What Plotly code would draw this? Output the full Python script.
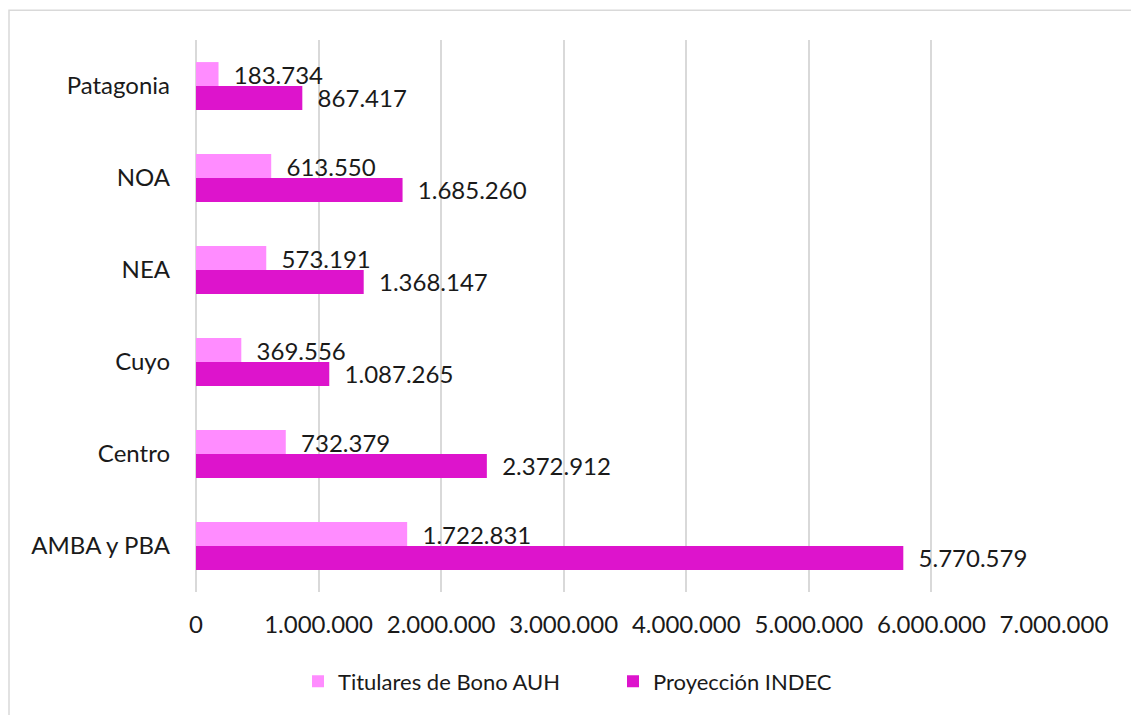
import plotly.graph_objects as go

regions = ["AMBA y PBA", "Centro", "Cuyo", "NEA", "NOA", "Patagonia"]
titulares = [1722831, 732379, 369556, 573191, 613550, 183734]
proyeccion = [5770579, 2372912, 1087265, 1368147, 1685260, 867417]
x_ticks = [0, 1000000, 2000000, 3000000, 4000000, 5000000, 6000000, 7000000]

FONT = "Lato, 'Noto Sans', sans-serif"
LIGHT = "#FF8CFF"
DARK = "#DD14CC"
TXT = "#1a1a1a"
PAD = "\u00a0\u00a0"

fig = go.Figure()
fig.add_trace(go.Bar(
    y=regions, x=proyeccion, orientation="h", name="Proyección INDEC",
    marker=dict(color=DARK, line=dict(width=0)),
    texttemplate=PAD + "%{x:,d}", textposition="outside", constraintext="none",
    textfont=dict(size=24, color=TXT, family=FONT), cliponaxis=False,
))
fig.add_trace(go.Bar(
    y=regions, x=titulares, orientation="h", name="Titulares de Bono AUH",
    marker=dict(color=LIGHT, line=dict(width=0)),
    texttemplate=PAD + "%{x:,d}", textposition="outside", constraintext="none",
    textfont=dict(size=24, color=TXT, family=FONT), cliponaxis=False,
))

L, R, T, B = 196, 77, 40, 120
W, H = 1131, 715
pw, ph = W - L - R, H - T - B

fig.update_layout(
    width=W, height=H,
    margin=dict(l=L, r=R, t=T, b=B),
    separators=",.",
    barmode="group", bargap=0.48, bargroupgap=0,
    plot_bgcolor="white", paper_bgcolor="white",
    font=dict(family=FONT, size=24, color=TXT),
    xaxis=dict(
        range=[0, 7000000], tickvals=x_ticks, tickformat=",d",
        showgrid=True, gridcolor="#D9D9D9", gridwidth=1.5,
        zeroline=True, zerolinecolor="#D9D9D9", zerolinewidth=1.5,
        showline=False, ticks="", ticklabelstandoff=16,
        tickfont=dict(size=24, color=TXT),
    ),
    yaxis=dict(
        showgrid=False, zeroline=False, showline=False, ticks="",
        ticklabelstandoff=25, tickfont=dict(size=24, color=TXT),
        range=[-0.5, 5.5],
    ),
    legend=dict(
        orientation="h", x=(298 - L) / pw, xanchor="left", y=-0.162, yanchor="middle",
        traceorder="reversed", font=dict(size=22, color=TXT), itemwidth=30,
        entrywidth=270,
    ),
    showlegend=True,
    shapes=[dict(
        type="rect", xref="paper", yref="paper",
        x0=(9 - L) / pw, x1=(1145 - L) / pw,
        y0=(T + ph - 730) / ph, y1=(T + ph - 10) / ph,
        line=dict(color="#D9D9D9", width=1.5), fillcolor="rgba(0,0,0,0)",
        layer="below",
    )],
)

fig.write_html("out.html", config={"displayModeBar": False},
               post_script="document.body.style.margin='0';")
